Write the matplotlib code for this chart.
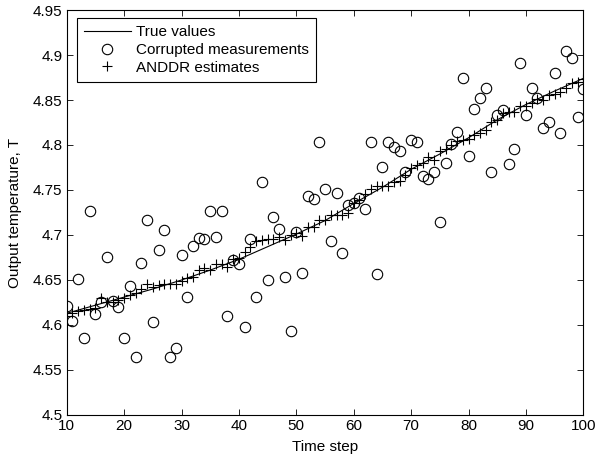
import numpy as np
from matplotlib import pyplot as plt
from matplotlib.ticker import FormatStrFormatter

plt.rcParams['font.family'] = ['Liberation Sans', 'DejaVu Sans']
plt.rcParams['font.size'] = 11

# time steps 10..100
time_steps = list(range(10, 101))

# true values, read every 5 steps
true_steps = [10, 15, 20, 25, 30, 35, 40, 45, 50, 55, 60, 65, 70, 75, 80, 85, 90, 95, 100]
true_values = [4.613, 4.622, 4.631, 4.640, 4.650, 4.661, 4.673, 4.687, 4.701, 4.716,
               4.735, 4.753, 4.773, 4.790, 4.808, 4.828, 4.845, 4.860, 4.874]

measured = [4.621, 4.604, 4.651, 4.586, 4.727, 4.612, 4.626, 4.675, 4.627, 4.620,
            4.585, 4.643, 4.564, 4.669, 4.717, 4.603, 4.683, 4.705, 4.564, 4.574,
            4.678, 4.631, 4.688, 4.697, 4.695, 4.727, 4.698, 4.727, 4.610, 4.672,
            4.668, 4.598, 4.695, 4.631, 4.759, 4.650, 4.720, 4.707, 4.653, 4.593,
            4.703, 4.658, 4.743, 4.740, 4.803, 4.751, 4.693, 4.747, 4.680, 4.733,
            4.735, 4.741, 4.729, 4.803, 4.657, 4.776, 4.803, 4.798, 4.793, 4.770,
            4.805, 4.803, 4.766, 4.762, 4.770, 4.714, 4.780, 4.801, 4.814, 4.875,
            4.788, 4.840, 4.852, 4.863, 4.770, 4.833, 4.839, 4.779, 4.796, 4.891,
            4.833, 4.863, 4.852, 4.819, 4.826, 4.880, 4.813, 4.904, 4.897, 4.831,
            4.862]

estimates = [4.610, 4.613, 4.615, 4.617, 4.618, 4.619, 4.630, 4.626, 4.626, 4.628,
             4.630, 4.633, 4.636, 4.640, 4.645, 4.642, 4.644, 4.646, 4.646, 4.646,
             4.649, 4.652, 4.653, 4.661, 4.663, 4.661, 4.668, 4.668, 4.664, 4.673,
             4.674, 4.681, 4.687, 4.693, 4.694, 4.696, 4.696, 4.698, 4.694, 4.700,
             4.702, 4.699, 4.709, 4.709, 4.717, 4.717, 4.722, 4.722, 4.722, 4.724,
             4.735, 4.739, 4.746, 4.751, 4.754, 4.754, 4.754, 4.759, 4.760, 4.767,
             4.774, 4.778, 4.780, 4.787, 4.783, 4.793, 4.796, 4.800, 4.804, 4.806,
             4.807, 4.811, 4.813, 4.817, 4.826, 4.828, 4.836, 4.837, 4.837, 4.843,
             4.843, 4.847, 4.851, 4.850, 4.856, 4.857, 4.859, 4.863, 4.869, 4.870,
             4.873]

fig = plt.figure(figsize=(5.96, 4.61), dpi=100)
ax = fig.add_axes([0.112, 0.0998, 0.8667, 0.8785])

ax.plot(true_steps, true_values, color='black', linewidth=0.8, label='True values')
ax.plot(time_steps, measured, linestyle='none', marker='o', markersize=7.5,
        markerfacecolor='none', markeredgecolor='black', markeredgewidth=0.8,
        label='Corrupted measurements')
ax.plot(time_steps, estimates, linestyle='none', marker='+', markersize=7,
        color='black', markeredgewidth=0.8, label='ANDDR estimates')

ax.set_xlim(10, 100)
ax.set_ylim(4.5, 4.95)
ax.set_xticks(np.arange(10, 101, 10))
ax.set_yticks(np.arange(4.5, 4.951, 0.05))
ax.yaxis.set_major_formatter(FormatStrFormatter('%g'))
ax.tick_params(direction='in', top=True, right=True, length=4, width=0.6, pad=3)
for s in ax.spines.values():
    s.set_linewidth(0.8)

ax.set_xlabel('Time step', labelpad=5)
ax.set_ylabel('Output temperature, T', labelpad=8)

leg = ax.legend(loc='upper left', bbox_to_anchor=(0.0194, 0.9795), borderaxespad=0,
                fancybox=False, framealpha=1, edgecolor='black', numpoints=1,
                handlelength=3.1, handletextpad=0.35, labelspacing=0.25, borderpad=0.45)
leg.get_frame().set_linewidth(0.8)

fig.savefig('out.png', dpi=100)
